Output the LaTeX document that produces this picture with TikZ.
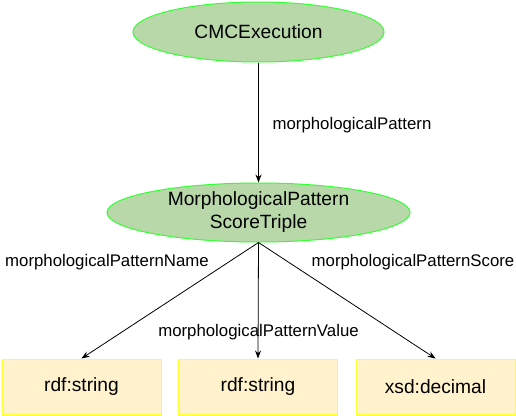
\documentclass[tikz,border=0pt]{standalone}
\usepackage{fontspec}
\setmainfont{Liberation Sans}
\usetikzlibrary{arrows.meta,shapes.geometric}
\definecolor{efill}{HTML}{B9D8A9}
\definecolor{eline}{HTML}{33FF33}
\definecolor{bfill}{HTML}{FFF2CC}
\definecolor{bline}{HTML}{FFFF33}
\tikzset{
  cls/.style={ellipse,draw=eline,fill=efill,line width=1pt,inner sep=0pt,
    font=\fontsize{19.2}{23}\selectfont,align=center},
  lit/.style={rectangle,draw=bline,fill=bfill,line width=1pt,inner sep=0pt,
    minimum width=159pt,minimum height=55pt,font=\fontsize{19.2}{23}\selectfont},
  lbl/.style={inner sep=0pt,font=\fontsize{16.8}{20}\selectfont},
  arr/.style={-{Stealth[length=8pt,width=6pt]},line width=0.8pt,black}
}
\begin{document}
\begin{tikzpicture}[x=1pt,y=-1pt]
\useasboundingbox (0,0) rectangle (516,415);
\node[cls,minimum width=251pt,minimum height=60pt] (c) at (258.5,32) {CMCExecution};
\node[cls,minimum width=303pt,minimum height=59pt] (m) at (258.5,212.5) {MorphologicalPattern\\ScoreTriple};
\node[lit] (b1) at (81.5,386.5) {rdf:string};
\node[lit] (b2) at (258,386.5) {rdf:string};
\node[lit] (b3) at (435.5,386.5) {xsd:decimal};
\draw[arr] (c.south) -- (m.north);
\draw[arr] (m.south) -- (b1.north);
\draw[arr] (m.south) -- (b2.north);
\draw[arr] (m.south) -- (b3.north);
\node[lbl] (l1) at (352,125) {morphologicalPattern};
\node[lbl] (l2) at (107,262) {morphologicalPatternName};
\node[lbl] (l3) at (413,262) {morphologicalPatternScore};
\node[lbl] (l4) at (258.5,332) {morphologicalPatternValue};
\end{tikzpicture}
\end{document}
